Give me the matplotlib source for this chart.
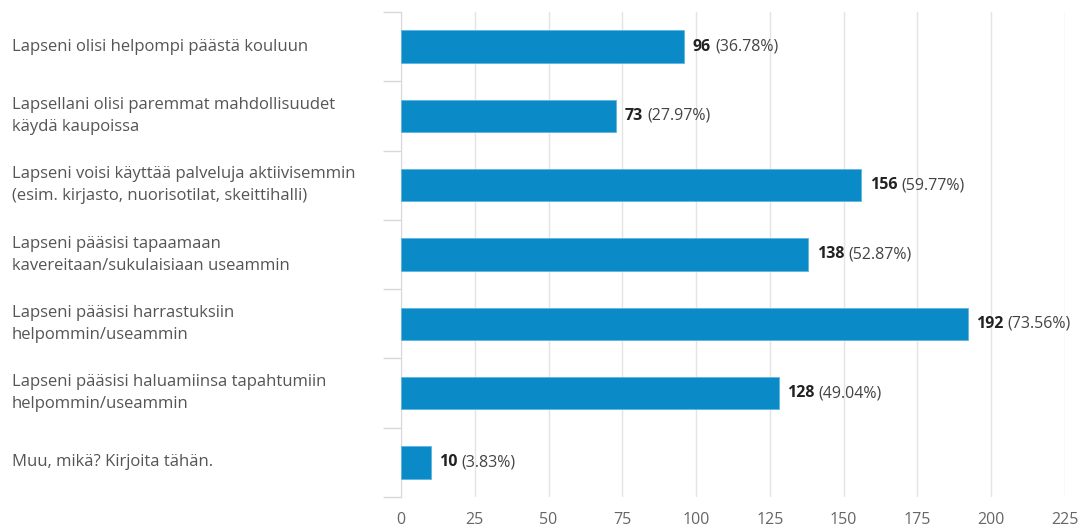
import matplotlib
matplotlib.use("Agg")
import matplotlib.pyplot as plt
import matplotlib.transforms as mtransforms
import numpy as np

plt.rcParams['font.family'] = ['Open Sans', 'DejaVu Sans']

# survey answers, top to bottom
labels = [
    "Lapseni olisi helpompi päästä kouluun",
    "Lapsellani olisi paremmat mahdollisuudet\nkäydä kaupoissa",
    "Lapseni voisi käyttää palveluja aktiivisemmin\n(esim. kirjasto, nuorisotilat, skeittihalli)",
    "Lapseni pääsisi tapaamaan\nkavereitaan/sukulaisiaan useammin",
    "Lapseni pääsisi harrastuksiin\nhelpommin/useammin",
    "Lapseni pääsisi haluamiinsa tapahtumiin\nhelpommin/useammin",
    "Muu, mikä? Kirjoita tähän.",
]
counts = [96, 73, 156, 138, 192, 128, 10]
percents = [36.78, 27.97, 59.77, 52.87, 73.56, 49.04, 3.83]
xticks = [0, 25, 50, 75, 100, 125, 150, 175, 200, 225]

bar_color = '#0a8bc8'
grid_color = '#e4e4e4'

fig = plt.figure(figsize=(10.89, 5.30), dpi=100)
ax = fig.add_axes([401 / 1089, 1 - 497 / 530, 664 / 1089, 485 / 530])

y = np.arange(len(labels))
ax.barh(y, counts, height=0.47, color=bar_color, edgecolor='#5cb6e0', linewidth=0.6, zorder=3)
ax.set_ylim(len(labels) - 0.5, -0.5)
ax.set_xlim(0, 225)

ax.set_xticks(xticks)
ax.set_xticklabels([str(t) for t in xticks], fontsize=11.5, color='#666666')
ax.tick_params(axis='x', length=0, pad=11)
ax.grid(axis='x', color=grid_color, linewidth=1, zorder=0)

# short marks between the categories on the left axis
ax.set_yticks(np.arange(-0.5, len(labels)), minor=True)
ax.set_yticks([])
ax.tick_params(axis='y', which='minor', length=13, color='#d8d8d8', width=1)

for s in ['top', 'right', 'bottom']:
    ax.spines[s].set_visible(False)
ax.spines['left'].set_color('#d8d8d8')

# category names, left aligned against the figure edge
trans = mtransforms.blended_transform_factory(fig.transFigure, ax.transData)
for yi, lab in zip(y, labels):
    ax.text(12 / 1089, yi, lab, transform=trans, ha='left', va='center',
            fontsize=12, color='#555555', linespacing=1.5)

# value labels: bold count followed by the percentage
fig.canvas.draw()
renderer = fig.canvas.get_renderer()
for yi, c, p in zip(y, counts, percents):
    t = ax.annotate(str(c), (c, yi), xytext=(6, 0), textcoords='offset points',
                    ha='left', va='center', fontsize=11.5, fontweight='bold', color='#222222')
    bb = t.get_window_extent(renderer)
    pt = ax.annotate("(%.2f%%)" % p, (c, yi), xytext=(6, 0), textcoords='offset points',
                     ha='left', va='center', fontsize=11.5, color='#444444')
    # shift the percentage to sit just after the bold count
    pt.xyann = (6 + bb.width * 72 / fig.dpi + 3, 0)

fig.savefig('out.png', dpi=100)
